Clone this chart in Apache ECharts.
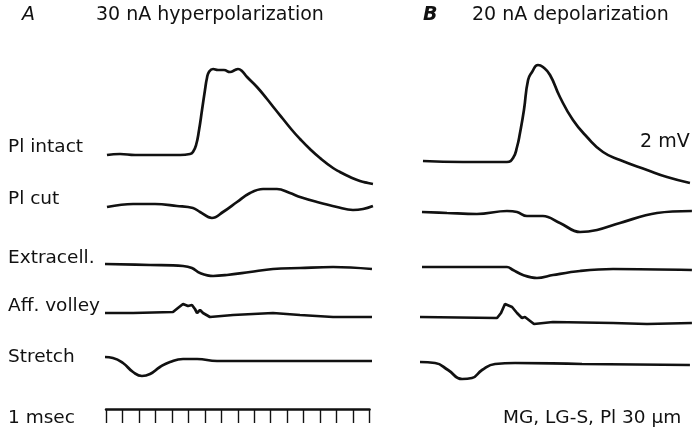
<!DOCTYPE html>
<html>
<head>
<meta charset="utf-8">
<script src="https://cdn.jsdelivr.net/npm/echarts@6/dist/echarts.min.js"></script>
<style>
  html, body { margin: 0; padding: 0; background: #fff; }
  #chart { width: 695px; height: 432px; }
</style>
</head>
<body>
<div id="chart"></div>
<script>
// time (ms) vs deflection (trace units, 1 unit ~ 1 px on screen)
const aIntact = [[0.12,0],[0.91,1],[1.82,0],[2.73,0],[3.64,0],[4.55,0],[5.15,1],[5.33,3],[5.52,10],[5.7,25],[5.88,45],[6.06,65],[6.18,77],[6.3,83],[6.55,86],[6.85,85],[7.21,85],[7.58,83],[7.88,85],[8.06,86],[8.3,84],[8.61,78],[9.21,68],[9.82,56],[10.3,46],[10.79,36],[11.33,25],[11.82,16],[12.42,6],[13.03,-3],[13.82,-13],[14.24,-17],[14.85,-22],[15.45,-26],[15.94,-28],[16.24,-29]];
const aCut = [[0.12,0],[1.7,3],[3.03,3],[4.36,1],[5.33,-1],[5.76,-5],[6.48,-11],[7.15,-5],[8.0,5],[8.79,14],[9.58,18],[10.42,18],[11.21,14],[11.82,10],[12.85,5],[14.06,0],[15.03,-3],[15.64,-2],[16.24,1]];
const aExtra = [[0.0,1],[2.73,0],[4.73,-1],[5.27,-3],[5.76,-8],[6.55,-11],[7.39,-10],[8.79,-7],[10.18,-4],[11.82,-3],[13.82,-2],[16.18,-4]];
const aVolley = [[0.0,0],[1.7,0],[4.12,1],[4.42,5],[4.73,9],[5.03,7],[5.27,8],[5.45,4],[5.58,0],[5.76,3],[5.94,0],[6.36,-4],[7.76,-2],[10.18,0],[11.82,-2],[13.82,-4],[16.18,-4]];
const aStretch = [[0.0,4],[0.48,3],[1.09,-2],[1.7,-11],[2.24,-15],[2.73,-13],[3.33,-6],[3.94,-1],[4.73,2],[5.58,2],[6.79,0],[9.82,0],[16.18,0]];

const bIntact = [[0.18,1],[2.61,0],[5.27,0],[5.64,4],[5.88,15],[6.06,29],[6.3,52],[6.55,82],[6.79,90],[7.15,97],[7.45,95],[7.88,87],[8.48,65],[9.27,42],[10.12,25],[11.09,10],[12.12,2],[13.76,-8],[14.97,-15],[16.36,-21]];
const bCut = [[0.12,0],[1.64,-1],[3.45,-2],[5.27,1],[5.88,0],[6.48,-4],[7.45,-4],[8.48,-11],[9.7,-20],[10.73,-18],[12.12,-11],[14.36,-1],[16.48,1]];
const bExtra = [[0.12,0],[5.27,0],[5.64,-3],[6.24,-8],[7.09,-11],[8.06,-8],[9.7,-4],[11.7,-2],[16.48,-3]];
const bVolley = [[0.0,0],[4.67,-1],[4.91,4],[5.15,13],[5.58,10],[5.88,4],[6.18,-1],[6.36,0],[6.91,-7],[8.06,-5],[11.7,-6],[13.76,-7],[16.48,-6]];
const bStretch = [[0.0,2],[0.91,1],[1.7,-6],[2.55,-15],[3.15,-14],[3.76,-6],[4.55,0],[5.76,1],[9.82,0],[16.36,-1]];

const markerTicks = { min: 0, max: 16, step: 1 }; // 1 msec time marker

const rowLabels = ['Pl intact', 'Pl cut', 'Extracell.', 'Aff. volley', 'Stretch', '1 msec'];

const traces = [
  { data: aIntact, left: 105, base: 155, up: 92, down: 32, smooth: 0.5 },
  { data: aCut, left: 105, base: 207, up: 20, down: 14, smooth: 0.4 },
  { data: aExtra, left: 105, base: 265, up: 4, down: 14, smooth: 0.4 },
  { data: aVolley, left: 105, base: 313, up: 12, down: 8, smooth: false },
  { data: aStretch, left: 105, base: 361, up: 6, down: 18, smooth: 0.5 },
  { data: bIntact, left: 420, base: 162, up: 100, down: 24, smooth: 0.5 },
  { data: bCut, left: 420, base: 212, up: 6, down: 24, smooth: 0.4 },
  { data: bExtra, left: 420, base: 267, up: 4, down: 14, smooth: 0.4 },
  { data: bVolley, left: 420, base: 317, up: 15, down: 10, smooth: false },
  { data: bStretch, left: 420, base: 364, up: 6, down: 18, smooth: 0.5 }
];

const ink = '#111';
const font = 'DejaVu Sans, Liberation Sans, sans-serif';

const grid = [], xAxis = [], yAxis = [], series = [];
traces.forEach((t, i) => {
  grid.push({ left: t.left, width: 270.6, top: t.base - t.up, height: t.up + t.down });
  xAxis.push({ gridIndex: i, type: 'value', min: 0, max: 16.4, show: false });
  yAxis.push({ gridIndex: i, type: 'value', min: -t.down, max: t.up, show: false });
  series.push({
    type: 'line', xAxisIndex: i, yAxisIndex: i, data: t.data,
    showSymbol: false, smooth: t.smooth, silent: true,
    lineStyle: { color: ink, width: 2.7 }
  });
});

// time marker: axis line on top, ticks pointing down
const mi = traces.length;
grid.push({ left: 106, width: 263.5, top: 409, height: 14 });
xAxis.push({
  gridIndex: mi, type: 'value', position: 'top',
  min: markerTicks.min, max: markerTicks.max, interval: markerTicks.step,
  axisLine: { show: true, onZero: false, lineStyle: { color: ink, width: 2.5 } },
  axisTick: { show: true, inside: true, length: 14, lineStyle: { color: ink, width: 1.4 } },
  axisLabel: { show: false }, splitLine: { show: false }
});
yAxis.push({ gridIndex: mi, type: 'value', min: 0, max: 1, show: false });

const labelY = [148, 200, 259, 307, 358, 419];
const graphic = rowLabels.map((txt, i) => ({
  type: 'text', left: 8, top: labelY[i] - 10,
  style: { text: txt, fill: ink, font: '18.5px ' + font }
}));
graphic.push(
  { type: 'text', left: 22, top: 6, style: { text: 'A', fill: ink, font: 'italic 19px ' + font } },
  { type: 'text', left: 96, top: 6, style: { text: '30 nA hyperpolarization', fill: ink, font: '19px ' + font } },
  { type: 'text', left: 423, top: 6, style: { text: 'B', fill: ink, font: 'italic bold 19px ' + font } },
  { type: 'text', left: 472, top: 6, style: { text: '20 nA depolarization', fill: ink, font: '19px ' + font } },
  { type: 'text', left: 640, top: 133, style: { text: '2 mV', fill: ink, font: '19px ' + font } },
  { type: 'text', left: 503, top: 409, style: { text: 'MG, LG-S, Pl 30 µm', fill: ink, font: '18.5px ' + font } }
);

const chart = echarts.init(document.getElementById('chart'));
chart.setOption({
  backgroundColor: '#fff',
  animation: false,
  grid, xAxis, yAxis, series, graphic
});
</script>
</body>
</html>
